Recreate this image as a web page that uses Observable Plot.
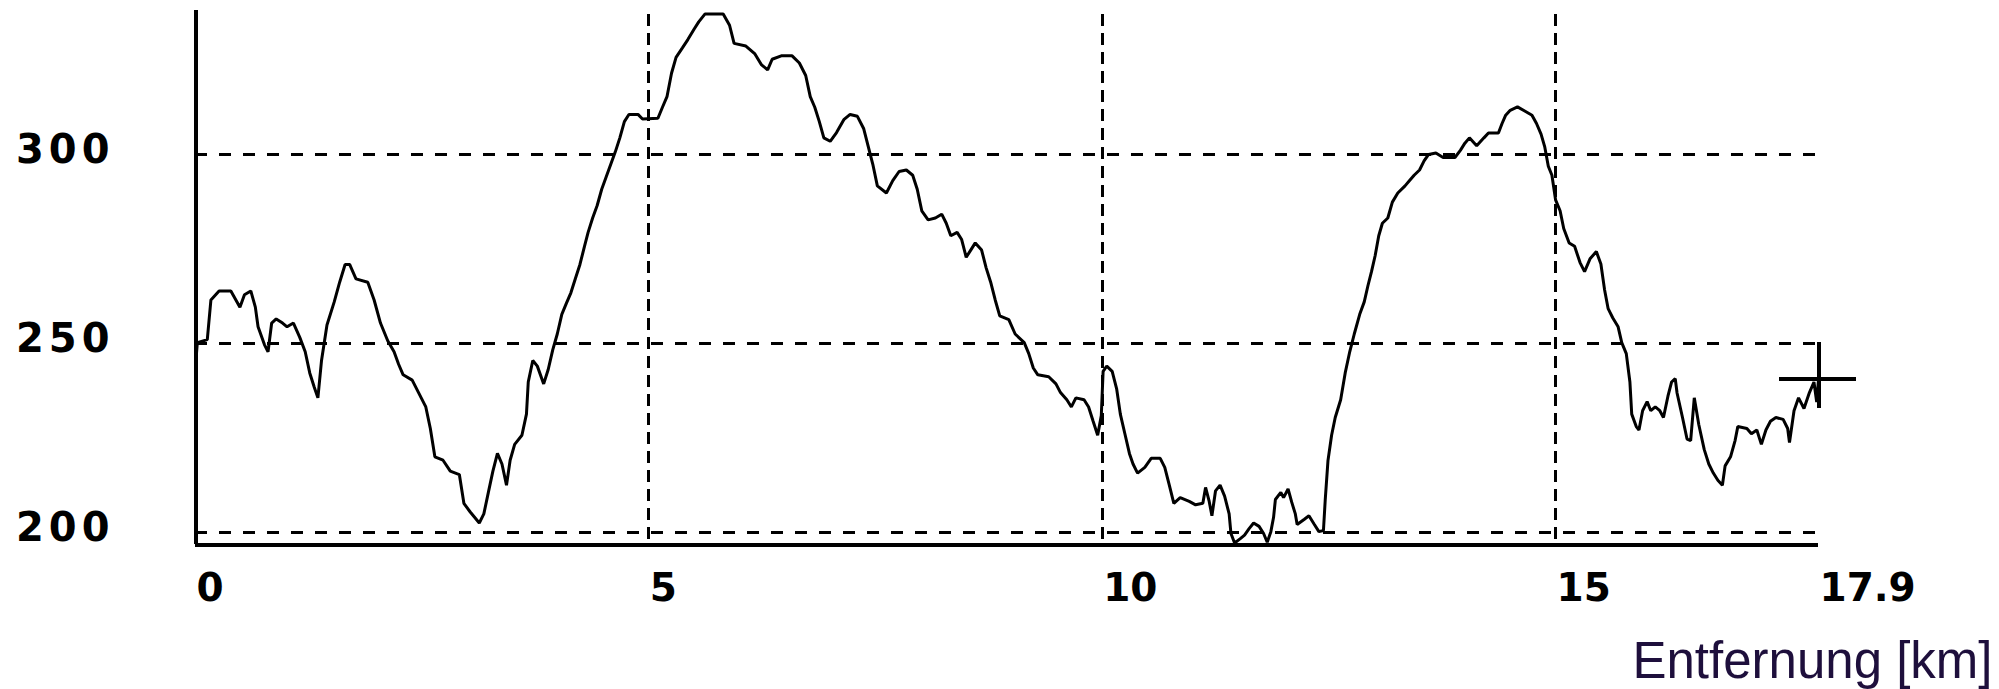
<!DOCTYPE html>
<html>
<head>
<meta charset="utf-8">
<script src="https://cdn.jsdelivr.net/npm/d3@7"></script>
<script src="https://cdn.jsdelivr.net/npm/@observablehq/plot@0.6"></script>
<style>
  html, body { margin: 0; padding: 0; background: #fff; overflow: hidden; }
  #chart svg { display: block; }
  #chart g[font-size="40"] { letter-spacing: 5px; }
</style>
</head>
<body>
<div id="chart"></div>
<script>
const distanceKm = [
  0.00, 0.02, 0.13, 0.17, 0.26, 0.39, 0.49, 0.54, 0.61, 0.66, 0.69, 0.76, 0.80, 0.84, 0.89, 0.96,
  1.01, 1.08, 1.15, 1.21, 1.26, 1.31, 1.35, 1.39, 1.45, 1.53, 1.59, 1.65, 1.70, 1.77, 1.90, 1.97,
  2.04, 2.12, 2.19, 2.24, 2.29, 2.39, 2.46, 2.54, 2.59, 2.64, 2.73, 2.81, 2.91, 2.96,
  3.03, 3.13, 3.18, 3.23, 3.28, 3.33, 3.38, 3.43, 3.47, 3.52, 3.60, 3.65, 3.67, 3.72, 3.77, 3.84, 3.89, 3.94, 3.99,
  4.04, 4.09, 4.14, 4.19, 4.24, 4.29, 4.33, 4.38, 4.43, 4.48, 4.53, 4.58, 4.63, 4.68, 4.73, 4.78, 4.88, 4.93,
  5.10, 5.15, 5.20, 5.25, 5.30, 5.37, 5.43, 5.50, 5.55, 5.62, 5.82, 5.89, 5.94,
  6.07, 6.17, 6.24, 6.31, 6.36, 6.46, 6.58, 6.66, 6.73, 6.78, 6.83, 6.88, 6.93,
  7.00, 7.07, 7.15, 7.22, 7.30, 7.37, 7.42, 7.47, 7.52, 7.62, 7.69, 7.76, 7.84, 7.91, 7.96,
  8.01, 8.08, 8.16, 8.23, 8.28, 8.33, 8.40, 8.45, 8.50, 8.55, 8.60, 8.67, 8.72, 8.77, 8.82, 8.87, 8.97,
  9.04, 9.14, 9.19, 9.24, 9.29, 9.41, 9.49, 9.54, 9.61, 9.66, 9.71, 9.80, 9.85, 9.90, 9.95, 9.99,
  10.01, 10.05, 10.11, 10.16, 10.20, 10.25, 10.30, 10.34, 10.39, 10.47, 10.54, 10.64, 10.69, 10.74, 10.79, 10.86, 10.96,
  11.03, 11.11, 11.14, 11.18, 11.21, 11.25, 11.30, 11.35, 11.40, 11.42, 11.46, 11.52, 11.57, 11.62, 11.67, 11.73, 11.78, 11.82, 11.86, 11.89, 11.91, 11.97,
  12.00, 12.05, 12.09, 12.13, 12.15, 12.23, 12.28, 12.34, 12.39, 12.44, 12.46, 12.49, 12.53, 12.57, 12.63, 12.68, 12.73, 12.78, 12.84, 12.89, 12.93, 12.97,
  13.01, 13.05, 13.09, 13.15, 13.20, 13.26, 13.34, 13.39, 13.44, 13.50, 13.55, 13.60, 13.68, 13.76, 13.89, 13.95,
  14.00, 14.05, 14.13, 14.21, 14.26, 14.37, 14.41, 14.45, 14.50, 14.58, 14.66, 14.74, 14.79, 14.84, 14.88, 14.92, 14.96,
  15.00, 15.05, 15.09, 15.15, 15.21, 15.27, 15.32, 15.38, 15.45, 15.50, 15.54, 15.58, 15.63, 15.69, 15.73, 15.78, 15.82, 15.84, 15.89, 15.92, 15.96,
  16.01, 16.05, 16.10, 16.15, 16.19, 16.24, 16.28, 16.32, 16.34, 16.40, 16.45, 16.49, 16.53, 16.58, 16.64, 16.69, 16.74, 16.79, 16.84, 16.87, 16.93, 16.98,
  17.01, 17.11, 17.16, 17.22, 17.27, 17.32, 17.37, 17.43, 17.51, 17.56, 17.58, 17.63, 17.68, 17.74, 17.80, 17.85, 17.88, 17.90
];
const elevationM = [
  244.0, 250.2, 251.0, 261.5, 263.9, 263.9, 259.6, 262.9, 263.9, 259.6, 254.4, 249.7, 247.8, 255.4, 256.5, 255.4,
  254.4, 255.4, 251.6, 247.8, 242.2, 238.4, 235.6, 245.5, 254.9, 261.0, 266.2, 270.9, 270.9, 267.1, 266.2, 261.5,
  255.4, 250.7, 247.8, 244.5, 241.7, 240.3, 237.0, 233.2, 227.5, 220.0, 219.1, 216.2, 215.3, 207.7,
  205.4, 202.5, 204.9, 210.6, 216.2, 220.9, 218.1, 212.5, 219.1, 223.3, 225.7, 231.3, 239.8, 245.5, 244.0, 239.3, 243.1, 248.3, 252.5,
  257.7, 260.6, 263.4, 267.2, 270.9, 275.7, 279.4, 283.2, 286.5, 290.8, 294.1, 297.4, 300.7, 304.4, 308.7, 310.6, 310.6, 309.4,
  309.6, 312.5, 315.3, 321.5, 325.7, 328.2, 330.4, 333.2, 335.1, 337.2, 337.2, 334.2, 329.4,
  328.7, 326.6, 323.8, 322.4, 325.2, 326.1, 326.1, 324.2, 320.9, 315.3, 312.5, 308.7, 304.4,
  303.5, 305.8, 309.2, 310.6, 310.1, 306.8, 302.1, 297.4, 291.7, 289.8, 293.1, 295.5, 295.9, 294.5, 290.8,
  285.1, 282.7, 283.2, 284.2, 281.8, 278.5, 279.4, 277.5, 272.8, 274.7, 276.6, 274.7, 270.0, 266.2, 261.5, 257.3, 256.3,
  252.5, 250.2, 247.3, 243.5, 241.7, 241.2, 239.3, 237.0, 235.1, 233.2, 235.6, 235.1, 233.2, 229.4, 225.7, 230.9,
  242.6, 244.0, 242.6, 237.9, 231.3, 226.1, 220.9, 218.1, 215.7, 217.2, 219.6, 219.6, 217.2, 212.5, 207.7, 209.2, 208.2,
  207.3, 207.7, 211.9, 208.2, 204.4, 211.0, 212.5, 209.6, 204.9, 199.7, 197.2, 198.3, 199.3, 201.0, 202.5, 201.6, 199.7, 197.4, 200.2, 204.0, 208.7, 210.6,
  209.2, 211.5, 208.0, 204.9, 202.1, 203.5, 204.4, 202.1, 200.2, 200.5, 208.7, 219.0, 225.7, 230.4, 235.1, 242.2, 247.8, 252.5, 257.7, 261.0, 265.2, 269.0,
  273.2, 278.5, 281.8, 283.2, 287.4, 289.8, 291.7, 293.1, 294.5, 295.9, 298.3, 300.0, 300.4, 299.2, 299.2, 301.1,
  303.0, 304.4, 302.3, 304.4, 305.7, 305.7, 308.2, 310.4, 311.7, 312.6, 311.5, 310.4, 308.2, 305.4, 302.1, 296.9, 294.5,
  288.0, 285.1, 280.4, 276.6, 275.7, 271.4, 269.0, 272.4, 274.3, 271.0, 264.3, 259.2, 256.8, 254.4, 250.2, 247.3, 239.8, 231.3, 228.0, 227.1, 232.2,
  234.6, 232.2, 233.2, 232.2, 230.4, 236.1, 239.8, 240.7, 236.9, 230.4, 224.7, 224.3, 235.6, 228.5, 221.9, 218.1, 215.7, 213.8, 212.5, 217.6, 220.0, 224.3,
  228.0, 227.5, 226.1, 227.1, 223.3, 227.1, 229.4, 230.4, 229.9, 227.5, 223.8, 232.2, 235.6, 232.8, 237.0, 239.8, 234.5, 240.5
];
const yTicks = [200, 250, 300];
const xGridKm = [5, 10, 15];
const xTickLabels = [0, 5, 10, 15, 17.9];
const cursorKm = [17.9];
const cursorElev = [240.5];
const xAxisTitle = "Entfernung [km]";

const profile = distanceKm.map((km, i) => ({km, elev: elevationM[i]}));
const cursor = cursorKm.map((km, i) => ({km, elev: cursorElev[i]}));

const crossSymbol = {
  draw(context) {
    context.moveTo(-40, 0); context.lineTo(37, 0);
    context.moveTo(0, -37); context.lineTo(0, 29);
  }
};

const chart = Plot.plot({
  width: 1999,
  height: 689,
  marginLeft: 195,
  marginRight: 181,
  marginTop: 10,
  marginBottom: 145,
  style: {background: "#ffffff", overflow: "visible"},
  x: {domain: [0, 17.9], axis: null},
  y: {domain: [196.8, 338.1], axis: null},
  marks: [
    Plot.ruleY(yTicks, {stroke: "#000", strokeWidth: 3, strokeDasharray: "12,12", shapeRendering: "crispEdges"}),
    Plot.ruleX(xGridKm, {stroke: "#000", strokeWidth: 3, strokeDasharray: "12,7", strokeDashoffset: -4, shapeRendering: "crispEdges"}),
    Plot.ruleX([0], {stroke: "#000", strokeWidth: 4, shapeRendering: "crispEdges"}),
    Plot.ruleY([196.8], {stroke: "#000", strokeWidth: 4, shapeRendering: "crispEdges"}),
    Plot.line(profile, {x: "km", y: "elev", stroke: "#000", strokeWidth: 3, strokeLinejoin: "miter"}),
    Plot.dot(cursor, {x: "km", y: "elev", symbol: crossSymbol, r: 10, fill: "none", stroke: "#000", strokeWidth: 4, shapeRendering: "crispEdges"}),
    Plot.text(yTicks, {
      y: d => d, frameAnchor: "left", text: d => String(d),
      textAnchor: "end", lineAnchor: "middle", dx: -81, dy: -4,
      fontFamily: "DejaVu Sans", fontWeight: "bold", fontSize: 40, fill: "#000"
    }),
    Plot.text(xTickLabels, {
      x: d => d, frameAnchor: "bottom", text: d => String(d),
      textAnchor: "start", lineAnchor: "bottom", dx: 1, dy: 56,
      fontFamily: "DejaVu Sans", fontWeight: "bold", fontSize: 39, fill: "#000"
    }),
    Plot.text([xAxisTitle], {
      frameAnchor: "bottom-right", text: d => d,
      textAnchor: "end", lineAnchor: "bottom", dx: 174, dy: 133,
      fontFamily: "Liberation Sans", fontSize: 51, fill: "#1e0f3c"
    })
  ]
});
document.getElementById("chart").appendChild(chart);
</script>
</body>
</html>
